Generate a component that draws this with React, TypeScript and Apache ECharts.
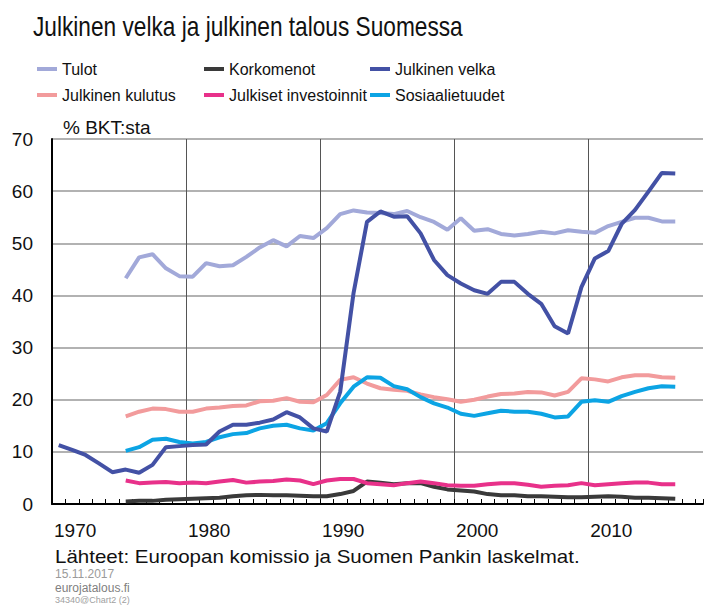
import React, { useEffect, useRef } from "react";
import * as echarts from "echarts";

const velkaYears: number[] = Array.from({ length: 47 }, (_, i) => 1970 + i);
const otherYears: number[] = Array.from({ length: 42 }, (_, i) => 1975 + i);

const velka = [
  11.3, 10.4, 9.4, 7.8, 6.1, 6.6, 6.0, 7.5, 10.9, 11.1,
  11.3, 11.4, 13.9, 15.2, 15.2, 15.6, 16.2, 17.6, 16.6, 14.5,
  13.9, 21.5, 40.5, 54.1, 56.1, 55.1, 55.2, 51.9, 46.8, 43.9,
  42.3, 41.0, 40.3, 42.6, 42.6, 40.3, 38.4, 34.1, 32.7, 41.6,
  47.1, 48.5, 53.7, 56.4, 59.9, 63.5, 63.4,
];
const tulot = [
  43.3, 47.3, 47.9, 45.2, 43.7, 43.6, 46.2, 45.6, 45.8, 47.4,
  49.2, 50.6, 49.4, 51.4, 51.0, 52.9, 55.6, 56.3, 55.9, 55.8,
  55.6, 56.2, 55.0, 54.1, 52.6, 54.8, 52.4, 52.7, 51.8, 51.5,
  51.8, 52.2, 51.9, 52.5, 52.2, 52.0, 53.3, 54.1, 54.9, 54.9,
  54.2, 54.2,
];
const kulutus = [
  16.8, 17.7, 18.3, 18.2, 17.7, 17.7, 18.3, 18.5, 18.8, 18.9,
  19.7, 19.8, 20.3, 19.6, 19.5, 20.9, 23.8, 24.3, 23.1, 22.2,
  21.9, 21.7, 21.0, 20.5, 20.1, 19.6, 20.0, 20.6, 21.1, 21.2,
  21.5, 21.4, 20.8, 21.5, 24.1, 23.9, 23.5, 24.3, 24.7, 24.7,
  24.3, 24.2,
];
const sosiaali = [
  10.2, 10.9, 12.3, 12.5, 11.9, 11.6, 11.9, 12.8, 13.4, 13.6,
  14.5, 15.0, 15.2, 14.5, 14.1, 15.5, 19.3, 22.5, 24.3, 24.2,
  22.6, 22.0, 20.5, 19.3, 18.5, 17.3, 16.9, 17.4, 17.9, 17.7,
  17.7, 17.3, 16.6, 16.8, 19.6, 19.9, 19.6, 20.7, 21.5, 22.2,
  22.6, 22.5,
];
const investoinnit = [
  4.5, 4.0, 4.1, 4.2, 4.0, 4.1, 4.0, 4.3, 4.6, 4.1,
  4.3, 4.4, 4.7, 4.5, 3.8, 4.5, 4.8, 4.8, 4.0, 3.8,
  3.6, 4.0, 4.3, 4.0, 3.6, 3.5, 3.5, 3.8, 4.0, 4.0,
  3.7, 3.3, 3.5, 3.6, 4.0, 3.6, 3.8, 4.0, 4.1, 4.1,
  3.8, 3.8,
];
const korko = [
  0.5, 0.6, 0.6, 0.8, 0.9, 1.0, 1.1, 1.2, 1.5, 1.7,
  1.75, 1.7, 1.7, 1.6, 1.5, 1.5, 1.9, 2.5, 4.3, 4.1,
  3.8, 4.0, 4.0, 3.3, 2.8, 2.6, 2.4, 1.9, 1.7, 1.7,
  1.5, 1.5, 1.4, 1.3, 1.3, 1.4, 1.5, 1.4, 1.2, 1.2,
  1.1, 1.0,
];

const titleText = "Julkinen velka ja julkinen talous Suomessa";
const unitText = "% BKT:sta";
const sourceText = "Lähteet: Euroopan komissio ja Suomen Pankin laskelmat.";
const dateText = "15.11.2017";
const siteText = "eurojatalous.fi";
const codeText = "34340@Chart2 (2)";

const FONT = "'Liberation Sans', Arial, sans-serif";

function pairs(years: number[], vals: number[]) {
  return years.map((y, i) => [y + 0.5, vals[i]]);
}

export default function App() {
  const ref = useRef<HTMLDivElement>(null);
  useEffect(() => {
    if (!ref.current) return;
    const chart = echarts.init(ref.current, undefined, { renderer: "svg" });
    const line = (name: string, color: string, years: number[], vals: number[], z: number) => ({
      name,
      type: "line",
      data: pairs(years, vals),
      showSymbol: false,
      symbol: "none",
      xAxisIndex: 0,
      yAxisIndex: 0,
      z,
      lineStyle: { color, width: 4 },
      itemStyle: { color },
    });
    const legendItem = (name: string, left: number, top: number) => ({
      data: [name],
      left,
      top,
      padding: 0,
      icon: "rect",
      itemWidth: 20,
      itemHeight: 4,
      textStyle: { fontFamily: FONT, fontSize: 16, color: "#111" },
    });
    chart.setOption({
      animation: false,
      backgroundColor: "#fff",
      textStyle: { fontFamily: FONT },
      grid: { left: 52, right: 0, top: 139, bottom: 101, containLabel: false },
      legend: [
        legendItem("Tulot", 37, 61),
        legendItem("Korkomenot", 204, 61),
        legendItem("Julkinen velka", 370, 61),
        legendItem("Julkinen kulutus", 37, 87),
        legendItem("Julkiset investoinnit", 204, 87),
        legendItem("Sosiaalietuudet", 370, 87),
      ],
      xAxis: [
        {
          type: "value",
          min: 1970,
          max: 2018.57,
          interval: 1,
          axisLine: { show: true, lineStyle: { color: "#000", width: 2 } },
          axisTick: { show: true, inside: true, length: 5, lineStyle: { color: "#000", width: 1 } },
          axisLabel: {
            show: true,
            fontSize: 19,
            color: "#111",
            fontFamily: FONT,
            align: "left",
            margin: 17,
            padding: [0, 0, 0, 2],
            formatter: (v: number) => (Math.abs(v % 10) < 1e-6 ? String(v) : ""),
          },
          splitLine: { show: false },
        },
        {
          type: "value",
          min: 1970,
          max: 2018.57,
          interval: 10,
          position: "bottom",
          axisLine: { show: false },
          axisTick: { show: false },
          axisLabel: { show: false },
          splitLine: { show: true, showMaxLine: false, lineStyle: { color: "#555", width: 1 } },
        },
      ],
      yAxis: {
        type: "value",
        min: 0,
        max: 70,
        interval: 10,
        axisLine: { show: true, lineStyle: { color: "#000", width: 2 } },
        axisTick: { show: false },
        axisLabel: { fontSize: 19, color: "#111", fontFamily: FONT, margin: 19 },
        splitLine: { show: true, lineStyle: { color: "#999", width: 1.5 } },
      },
      series: [
        line("Tulot", "#A2A9D9", otherYears, tulot, 2),
        line("Korkomenot", "#3A3A3A", otherYears, korko, 3),
        line("Julkinen kulutus", "#F29B9C", otherYears, kulutus, 4),
        line("Julkiset investoinnit", "#E8318A", otherYears, investoinnit, 5),
        line("Sosiaalietuudet", "#0CA4E4", otherYears, sosiaali, 6),
        line("Julkinen velka", "#4351A5", velkaYears, velka, 7),
      ],
      graphic: [
        {
          type: "text",
          x: 33,
          y: 26,
          scaleX: 0.84,
          style: {
            text: titleText,
            fontFamily: FONT,
            fontSize: 27,
            fill: "#111",
            textAlign: "left",
            textVerticalAlign: "middle",
          },
        },
        {
          type: "text",
          x: 63,
          y: 127,
          style: {
            text: unitText,
            fontFamily: FONT,
            fontSize: 19,
            fill: "#111",
            textAlign: "left",
            textVerticalAlign: "middle",
          },
        },
        {
          type: "text",
          x: 55,
          y: 557,
          scaleX: 1.14,
          style: {
            text: sourceText,
            fontFamily: FONT,
            fontSize: 18,
            fill: "#111",
            textAlign: "left",
            textVerticalAlign: "middle",
          },
        },
        {
          type: "text",
          x: 55,
          y: 574,
          style: {
            text: dateText,
            fontFamily: FONT,
            fontSize: 12,
            fill: "#9a9a9a",
            textAlign: "left",
            textVerticalAlign: "middle",
          },
        },
        {
          type: "text",
          x: 55,
          y: 588,
          style: {
            text: siteText,
            fontFamily: FONT,
            fontSize: 12,
            fill: "#808080",
            textAlign: "left",
            textVerticalAlign: "middle",
          },
        },
        {
          type: "text",
          x: 55,
          y: 600,
          style: {
            text: codeText,
            fontFamily: FONT,
            fontSize: 9,
            fill: "#a0a0a0",
            textAlign: "left",
            textVerticalAlign: "middle",
          },
        },
      ],
    });
    return () => chart.dispose();
  }, []);
  return (
    <div
      ref={ref}
      style={{ position: "fixed", left: 0, top: 0, width: 706, height: 605, background: "#fff" }}
    />
  );
}
